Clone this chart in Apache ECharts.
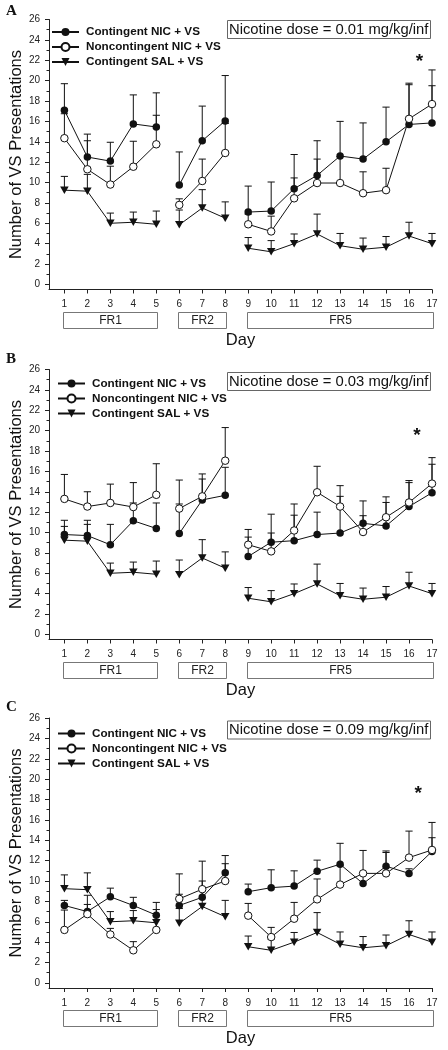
<!DOCTYPE html>
<html><head><meta charset="utf-8">
<script src="https://cdn.jsdelivr.net/npm/echarts@6/dist/echarts.min.js"></script>
<style>html,body{margin:0;padding:0;background:#fff}#c{width:448px;height:1050px}</style>
</head><body><div id="c"></div>
<script>
// ---------------- DATA ----------------
const days = [1,2,3,4,5,6,7,8,9,10,11,12,13,14,15,16,17];
const dayLabels = ['1','2','3','4','5','6','7','8','9','10','11','12','13','14','15','16','17'];
const yTickValues = [0,2,4,6,8,10,12,14,16,18,20,22,24,26];
const yMinorTickValues = [1,3,5,7,9,11,13,15,17,19,21,23,25];
const breakAfterDays = [5, 8];
const seriesNames = ['Contingent NIC + VS','Noncontingent NIC + VS','Contingent SAL + VS'];
const panelLetters = ['A','B','C'];
const doseLabels = ['Nicotine dose = 0.01 mg/kg/inf','Nicotine dose = 0.03 mg/kg/inf','Nicotine dose = 0.09 mg/kg/inf'];
const phaseNames = ['FR1','FR2','FR5'];
const phaseStart = [1,6,9];
const phaseEnd = [5,8,17];
const xAxisTitle = 'Day';
const yAxisTitle = 'Number of VS Presentations';

// Panel A (0.01)
const nicA   = [17.1,12.5,12.1,15.75,15.45,9.75,14.1,16.05,7.1,7.2,9.4,10.7,12.6,12.3,14.0,15.7,15.85];
const nicAse = [2.6,2.25,1.85,2.85,3.35,3.25,3.4,4.45,2.55,2.85,3.35,3.4,3.4,3.55,3.4,4.05,3.65];
const nonA   = [14.35,11.3,9.8,11.55,13.75,7.8,10.15,12.9,5.9,5.2,8.45,9.95,9.95,8.95,9.25,16.25,17.7];
const nonAse = [2.4,2.8,1.8,2.5,2.85,0.6,2.15,2.9,1.0,1.5,2.0,2.35,2.6,2.1,2.15,3.35,3.35];
// Panel B (0.03)
const nicB   = [9.8,9.7,8.8,11.15,10.4,9.9,13.2,13.65,7.65,9.05,9.2,9.8,9.95,10.9,10.65,12.55,13.9];
const nicBse = [1.4,1.5,2.0,1.75,2.5,2.9,2.05,2.75,1.9,2.75,3.6,2.2,4.65,2.2,2.3,2.35,2.8];
const nonB   = [13.3,12.55,12.9,12.5,13.7,12.35,13.55,17.05,8.8,8.15,10.2,13.95,12.55,10.05,11.5,12.95,14.8];
const nonBse = [2.4,1.45,1.85,2.4,3.05,2.8,2.2,3.25,1.5,1.8,1.5,2.55,1.0,1.6,2.0,2.15,2.55];
// Panel C (0.09)
const nicC   = [7.6,7.0,8.45,7.6,6.65,7.6,8.4,10.8,8.95,9.35,9.5,10.95,11.65,9.75,11.45,10.75,12.9];
const nicCse = [0.5,1.6,0.85,0.8,1.25,3.1,1.6,1.7,0.75,1.75,1.5,1.1,2.05,0.85,1.5,0.45,1.35];
const nonC   = [5.2,6.75,4.75,3.2,5.2,8.25,9.2,10.0,6.6,4.5,6.3,8.2,9.65,10.75,10.75,12.3,13.05];
const nonCse = [1.95,0.95,0.6,0.85,1.4,0.45,2.75,1.7,1.2,0.95,1.6,2.0,1.85,2.25,2.05,2.6,2.7];
// Saline group (same in all panels)
const sal    = [9.25,9.15,6.0,6.1,5.9,5.85,7.5,6.5,3.55,3.2,4.0,4.95,3.8,3.45,3.65,4.75,4.0];
const salSe  = [1.35,1.65,1.0,1.0,1.3,1.45,1.8,1.6,1.05,1.1,0.95,1.95,1.2,1.1,1.05,1.35,1.0];
// significance asterisks
const starDay   = [16.45, 16.35, 16.4];
const starValue = [22.2, 19.85, 18.9];

// ---------------- LAYOUT ----------------
const gridTops = [19.5, 369.5, 718];
const gridHeight = 270;
const legendLefts = [51, 57, 57];
const legendTops = [26, 377.5, 727.5];
const doseTops = [20, 372, 720.5];
const letterTops = [4, 352, 700];
const FONT = 'Liberation Sans, Arial, Helvetica, sans-serif';

const panels = [
  {nic: nicA, nicSe: nicAse, non: nonA, nonSe: nonAse},
  {nic: nicB, nicSe: nicBse, non: nonB, nonSe: nonBse},
  {nic: nicC, nicSe: nicCse, non: nonC, nonSe: nonCse}
];

function lineData(vals) {
  const out = [];
  days.forEach((d, i) => {
    out.push([d, vals[i]]);
    if (breakAfterDays.includes(d)) out.push([d + 0.5, '-']);
  });
  return out;
}
function errData(vals, se) { return days.map((d, i) => [d, vals[i], se[i]]); }

function errRender(params, api) {
  const x = api.value(0), m = api.value(1), e = api.value(2);
  const p0 = api.coord([x, m]);
  const p1 = api.coord([x, m + e]);
  const st = {stroke: '#111', lineWidth: 1};
  return {type: 'group', children: [
    {type: 'line', shape: {x1: p0[0], y1: p0[1], x2: p1[0], y2: p1[1]}, style: st},
    {type: 'line', shape: {x1: p1[0] - 3.6, y1: p1[1], x2: p1[0] + 3.6, y2: p1[1]}, style: st}
  ]};
}

const grids = [], xAxes = [], yAxes = [], series = [], legends = [], titles = [];
panels.forEach((p, g) => {
  grids.push({left: 49, right: 16, top: gridTops[g], height: gridHeight, outerBoundsMode: 'none', containLabel: false});
  xAxes.push({
    type: 'value', gridIndex: g, min: 0.33, max: 17,
    name: xAxisTitle, nameLocation: 'middle', nameGap: 42, nameMoveOverlap: false,
    nameTextStyle: {fontSize: 16.5, fontFamily: FONT, color: '#111'},
    axisLine: {show: true, onZero: false, lineStyle: {color: '#222', width: 1}},
    axisTick: {show: true, length: 4, customValues: days, lineStyle: {color: '#222'}},
    axisLabel: {show: true, customValues: days, formatter: v => dayLabels[days.indexOf(v)], fontSize: 10, fontFamily: FONT, color: '#222', margin: 10},
    splitLine: {show: false}
  });
  yAxes.push({
    type: 'value', gridIndex: g, min: -0.5, max: 26, position: 'left',
    name: yAxisTitle, nameLocation: 'middle', nameGap: 24, nameRotate: 90, nameMoveOverlap: false,
    nameTextStyle: {fontSize: 16.5, fontFamily: FONT, color: '#111'},
    axisLine: {show: true, onZero: false, lineStyle: {color: '#222', width: 1}},
    axisTick: {show: true, length: 4, customValues: yTickValues, lineStyle: {color: '#222'}},
    axisLabel: {show: true, customValues: yTickValues, fontSize: 10, fontFamily: FONT, color: '#222', margin: 9},
    splitLine: {show: false}
  });
  yAxes.push({
    type: 'value', gridIndex: g, min: -0.5, max: 26, position: 'left', offset: 0,
    axisLine: {show: false, onZero: false},
    axisTick: {show: true, length: 2.5, customValues: yMinorTickValues, lineStyle: {color: '#222'}},
    axisLabel: {show: false},
    splitLine: {show: false}
  });
  const yi = g * 2;
  // error bars
  [[p.nic, p.nicSe], [p.non, p.nonSe], [sal, salSe]].forEach(([v, s]) => {
    series.push({type: 'custom', xAxisIndex: g, yAxisIndex: yi, renderItem: errRender, clip: false, z: 1,
      dimensions: ['day', 'mean', 'se'], encode: {x: 0, y: 1}, data: errData(v, s), silent: true});
  });
  // lines
  series.push({name: seriesNames[2], type: 'line', xAxisIndex: g, yAxisIndex: yi, data: lineData(sal), z: 3,
    symbol: 'triangle', symbolRotate: 180, symbolSize: [8.5, 7.5], lineStyle: {color: '#111', width: 1},
    itemStyle: {color: '#111', borderWidth: 0}, connectNulls: false, animation: false});
  series.push({name: seriesNames[0], type: 'line', xAxisIndex: g, yAxisIndex: yi, data: lineData(p.nic), z: 4,
    symbol: 'circle', symbolSize: 7.5, lineStyle: {color: '#111', width: 1},
    itemStyle: {color: '#111', borderWidth: 0}, connectNulls: false, animation: false});
  series.push({name: seriesNames[1], type: 'line', xAxisIndex: g, yAxisIndex: yi, data: lineData(p.non), z: 5,
    symbol: 'circle', symbolSize: 7.5, showAllSymbol: true, lineStyle: {color: '#111', width: 1},
    itemStyle: {color: '#fff', borderColor: '#111', borderWidth: 1}, connectNulls: false, animation: false});
  // phase boxes
  series.push({type: 'custom', xAxisIndex: g, yAxisIndex: yi, clip: false, silent: true, z: 2,
    dimensions: ['start', 'end', 'y', 'idx'], encode: {x: [0, 1], y: 2},
    data: phaseStart.map((s, i) => [s, phaseEnd[i], -0.5, i]),
    renderItem: (params, api) => {
      const a = api.coord([api.value(0), -0.5]);
      const b = api.coord([api.value(1), -0.5]);
      const x0 = Math.round(a[0] - 1) + 0.5, x1 = Math.round(b[0] + 1) + 0.5;
      const y0 = Math.round(a[1] + 22) + 0.5;
      return {type: 'group', children: [
        {type: 'rect', shape: {x: x0, y: y0, width: x1 - x0, height: 16}, style: {fill: '#fff', stroke: '#777', lineWidth: 1}},
        {type: 'text', x: (x0 + x1) / 2, y: y0 + 8.5, style: {text: phaseNames[api.value(3)], fontSize: 12, fontFamily: FONT, fill: '#222', align: 'center', verticalAlign: 'middle'}}
      ]};
    }
  });
  // asterisk
  series.push({type: 'custom', xAxisIndex: g, yAxisIndex: yi, clip: false, silent: true, z: 6,
    dimensions: ['day', 'v'], encode: {x: 0, y: 1}, data: [[starDay[g], starValue[g]]],
    renderItem: (params, api) => {
      const c = api.coord([api.value(0), api.value(1)]);
      return {type: 'text', x: c[0], y: c[1] + 3.5, style: {text: '*', fontSize: 19, fontWeight: 'bold', fontFamily: FONT, fill: '#111', align: 'center', verticalAlign: 'middle'}};
    }
  });
  legends.push({
    data: seriesNames, orient: 'vertical', left: legendLefts[g], top: legendTops[g],
    itemWidth: 27, itemHeight: 10, itemGap: 3, padding: 0, selectedMode: false,
    textStyle: {fontSize: 11.7, fontWeight: 'bold', fontFamily: FONT, color: '#111', lineHeight: 12, padding: [0, 0, 0, 2]}
  });
  titles.push({text: doseLabels[g], left: 227, top: doseTops[g], padding: [2, 2, 2, 2], borderWidth: 1, borderColor: '#666',
    textStyle: {fontSize: 14.8, fontWeight: 'normal', fontFamily: FONT, color: '#111', lineHeight: 15}});
  titles.push({text: panelLetters[g], left: 6, top: letterTops[g], padding: 0,
    textStyle: {fontSize: 15, fontWeight: 'bold', fontFamily: 'Liberation Serif, Times New Roman, serif', color: '#111'}});
});

const chart = echarts.init(document.getElementById('c'), null, {renderer: 'canvas'});
chart.setOption({
  animation: false,
  backgroundColor: '#fff',
  title: titles,
  legend: legends,
  grid: grids,
  xAxis: xAxes,
  yAxis: yAxes,
  series: series
});
</script></body></html>
